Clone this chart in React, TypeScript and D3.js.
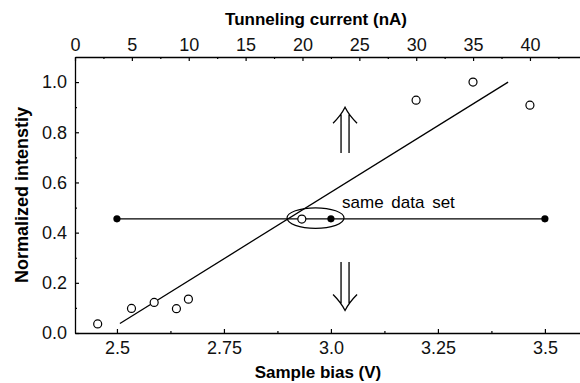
import { useEffect, useRef } from 'react'
import * as d3 from 'd3'

// open circles: measured intensity vs sample bias
const biasV = [2.455, 2.534, 2.587, 2.639, 2.667, 2.932, 3.199, 3.332, 3.465]
const intensity = [0.036, 0.098, 0.122, 0.097, 0.135, 0.454, 0.928, 1.0, 0.908]

// filled dots: the same data set against tunneling current
const sameSetBias = [2.5, 3.0, 3.5]
const sameSetIntensity = [0.455, 0.455, 0.455]

// linear fit end points
const fitBias = [2.507, 3.414]
const fitIntensity = [0.038, 1.0]

const biasTicks = [2.5, 2.75, 3.0, 3.25, 3.5]
const biasTickLabels = ['2.5', '2.75', '3.0', '3.25', '3.5']
const biasMinor = [2.625, 2.875, 3.125, 3.375]
const currentTicks = [0, 5, 10, 15, 20, 25, 30, 35, 40]
const currentMinor = [2.5, 7.5, 12.5, 17.5, 22.5, 27.5, 32.5, 37.5, 42.5]
const intensityTicks = [0, 0.2, 0.4, 0.6, 0.8, 1.0]
const intensityMinor = [0.1, 0.3, 0.5, 0.7, 0.9]

const BIAS_DOMAIN = [2.402, 3.582]
const CURRENT_DOMAIN = [0, 44.4]
const INTENSITY_DOMAIN = [0, 1.1]

const WIDTH = 580
const HEIGHT = 383
const PLOT = { left: 75, right: 580, top: 57, bottom: 333 }
const FONT = '"Liberation Sans", Arial, Helvetica, sans-serif'

export default function App() {
  const svgRef = useRef<SVGSVGElement>(null)

  useEffect(() => {
    if (!svgRef.current) return
    const svg = d3.select(svgRef.current)
    svg.selectAll('*').remove()
    svg.attr('font-family', FONT)

    const x = d3.scaleLinear().domain(BIAS_DOMAIN).range([PLOT.left, PLOT.right])
    const xTop = d3.scaleLinear().domain(CURRENT_DOMAIN).range([PLOT.left, PLOT.right])
    const y = d3.scaleLinear().domain(INTENSITY_DOMAIN).range([PLOT.bottom, PLOT.top])

    const styleAxis = (g: d3.Selection<SVGGElement, unknown, null, undefined>) => {
      g.select('.domain').attr('stroke', '#000').attr('stroke-width', 1.3)
      g.selectAll('.tick line').attr('stroke', '#000').attr('stroke-width', 1.2)
      g.selectAll('.tick text').attr('fill', '#111').attr('font-size', 18).attr('font-family', FONT)
      g.attr('font-family', null).attr('font-size', null)
    }

    // bottom axis (ticks point inward)
    const bottom = svg.append('g')
      .attr('transform', `translate(0,${PLOT.bottom})`)
      .call(d3.axisBottom(x).tickValues(biasTicks)
        .tickFormat((_d, i) => biasTickLabels[i])
        .tickSizeInner(-4).tickSizeOuter(0).tickPadding(8))
    styleAxis(bottom)
    svg.append('g')
      .attr('transform', `translate(0,${PLOT.bottom})`)
      .call(d3.axisBottom(x).tickValues(biasMinor).tickFormat(() => '').tickSizeInner(-2).tickSizeOuter(0))
      .call(g => g.select('.domain').remove())
      .selectAll('line').attr('stroke', '#000').attr('stroke-width', 1.2)

    // top axis
    const top = svg.append('g')
      .attr('transform', `translate(0,${PLOT.top})`)
      .call(d3.axisTop(xTop).tickValues(currentTicks)
        .tickFormat(d => String(d))
        .tickSizeInner(-4).tickSizeOuter(0).tickPadding(6))
    styleAxis(top)
    svg.append('g')
      .attr('transform', `translate(0,${PLOT.top})`)
      .call(d3.axisTop(xTop).tickValues(currentMinor).tickFormat(() => '').tickSizeInner(-2).tickSizeOuter(0))
      .call(g => g.select('.domain').remove())
      .selectAll('line').attr('stroke', '#000').attr('stroke-width', 1.2)

    // left axis
    const left = svg.append('g')
      .attr('transform', `translate(${PLOT.left},0)`)
      .call(d3.axisLeft(y).tickValues(intensityTicks)
        .tickFormat(d => d3.format('.1f')(d as number))
        .tickSizeInner(-4).tickSizeOuter(0).tickPadding(8))
    styleAxis(left)
    svg.append('g')
      .attr('transform', `translate(${PLOT.left},0)`)
      .call(d3.axisLeft(y).tickValues(intensityMinor).tickFormat(() => '').tickSizeInner(-2).tickSizeOuter(0))
      .call(g => g.select('.domain').remove())
      .selectAll('line').attr('stroke', '#000').attr('stroke-width', 1.2)

    // axis titles
    svg.append('text')
      .attr('x', 316).attr('y', 25)
      .attr('text-anchor', 'middle')
      .attr('font-weight', 'bold').attr('font-size', 17)
      .text('Tunneling current (nA)')
    svg.append('text')
      .attr('x', 318).attr('y', 378)
      .attr('text-anchor', 'middle')
      .attr('font-weight', 'bold').attr('font-size', 17)
      .text('Sample bias (V)')
    svg.append('text')
      .attr('transform', `translate(28,${(PLOT.top + PLOT.bottom) / 2}) rotate(-90)`)
      .attr('text-anchor', 'middle')
      .attr('font-weight', 'bold').attr('font-size', 18)
      .text('Normalized intenstiy')

    // fit line
    const line = d3.line<number>().x(d => x(d)).y((_d, i) => y(fitIntensity[i]))
    svg.append('path')
      .attr('d', line(fitBias))
      .attr('fill', 'none').attr('stroke', '#000').attr('stroke-width', 1.3)

    // same data set line + dots
    const sameLine = d3.line<number>().x(d => x(d)).y((_d, i) => y(sameSetIntensity[i]))
    svg.append('path')
      .attr('d', sameLine(sameSetBias))
      .attr('fill', 'none').attr('stroke', '#000').attr('stroke-width', 1.3)
    svg.append('g').selectAll('circle')
      .data(sameSetBias)
      .join('circle')
      .attr('cx', d => x(d))
      .attr('cy', (_d, i) => y(sameSetIntensity[i]))
      .attr('r', 3.6)
      .attr('fill', '#000')

    // measured points
    svg.append('g').selectAll('circle')
      .data(biasV)
      .join('circle')
      .attr('cx', d => x(d))
      .attr('cy', (_d, i) => y(intensity[i]))
      .attr('r', 4)
      .attr('fill', '#fff')
      .attr('stroke', '#000').attr('stroke-width', 1.2)

    // ellipse around the shared point
    svg.append('ellipse')
      .attr('cx', x(2.964)).attr('cy', y(0.458))
      .attr('rx', 28.5).attr('ry', 10.3)
      .attr('fill', 'none').attr('stroke', '#000').attr('stroke-width', 1.2)

    svg.append('text')
      .attr('x', x(3.026)).attr('y', y(0.5))
      .attr('font-size', 17).attr('word-spacing', 3)
      .text('same data set')

    // double arrows
    const drawArrow = (cx: number, yTip: number, yTail: number) => {
      const dir = yTail > yTip ? 1 : -1
      const headH = 16 * dir
      const headW = 12
      const gap = 4
      const p = d3.path()
      p.moveTo(cx - headW, yTip + headH)
      p.quadraticCurveTo(cx - 4, yTip + headH * 0.5, cx, yTip)
      p.quadraticCurveTo(cx + 4, yTip + headH * 0.5, cx + headW, yTip + headH)
      p.moveTo(cx - gap, yTip + headH * 0.45)
      p.lineTo(cx - gap, yTail)
      p.moveTo(cx + gap, yTip + headH * 0.45)
      p.lineTo(cx + gap, yTail)
      svg.append('path')
        .attr('d', p.toString())
        .attr('fill', 'none').attr('stroke', '#000').attr('stroke-width', 1.3)
    }
    drawArrow(x(3.033), y(0.9), y(0.717))
    drawArrow(x(3.033), y(0.09), y(0.283))
  }, [])

  return (
    <svg
      ref={svgRef}
      width={WIDTH}
      height={HEIGHT}
      style={{ position: 'absolute', left: 0, top: 0, background: '#fff' }}
    />
  )
}
